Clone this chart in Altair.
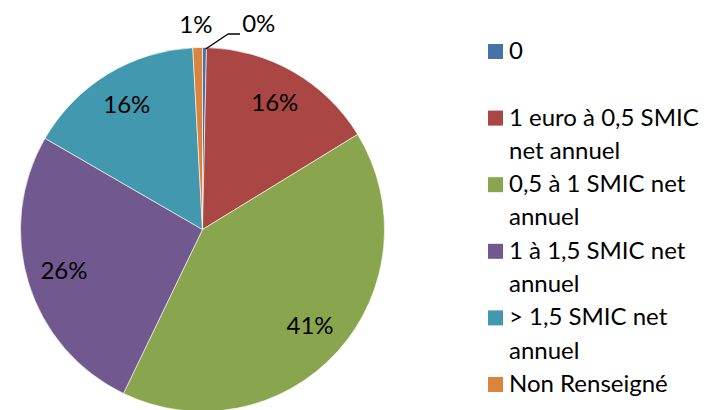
import altair as alt
import pandas as pd

categories = ["0", "1 euro à 0,5 SMIC net annuel", "0,5 à 1 SMIC net annuel",
              "1 à 1,5 SMIC net annuel", "> 1,5 SMIC net annuel", "Non Renseigné"]
legend_labels = ["0", "1 euro à 0,5 SMIC\nnet annuel", "0,5 à 1 SMIC net\nannuel",
                 "1 à 1,5 SMIC net\nannuel", "> 1,5 SMIC net\nannuel", "Non Renseigné"]
shares = [0.35, 15.9, 40.9, 26.2, 15.8, 0.85]
colors = ["#4572A7", "#AA4643", "#89A54E", "#71588F", "#4198AF", "#DB843D"]

df = pd.DataFrame({
    "cat": categories,
    "legend": legend_labels,
    "share": shares,
    "idx": list(range(len(categories))),
    "pct": [f"{round(v)}%" for v in shares],
})

FONT = "Lato"
FS = 24
CX, CY, R = 194.5, 221.5, 182

base = alt.Chart(df)
color = alt.Color("cat:N", scale=alt.Scale(domain=categories, range=colors), legend=None)
theta = alt.Theta("share:Q", stack=True)
order = alt.Order("idx:Q")

pie = base.mark_arc(radius=R, stroke="white", strokeWidth=0.6).encode(
    theta=theta, color=color, order=order, x=alt.value(CX), y=alt.value(CY)
)

def pie_label(cond, radius, dx=0, dy=0, size=FS):
    return base.mark_text(radius=radius, dx=dx, dy=dy, font=FONT, fontSize=size,
                          align="center", baseline="middle", color="black").encode(
        theta=theta, order=order, x=alt.value(CX), y=alt.value(CY),
        text=alt.condition(cond, alt.Text("pct:N"), alt.value("")),
    )

lab_main = pie_label("datum.share >= 5", 145)
lab_one = pie_label("datum.idx == 5", 209, dx=-1, dy=5.5)
lab_zero = pie_label("datum.idx == 0", 205, dx=54)

lead = base.transform_filter("datum.idx == 0")
rule1 = lead.mark_rule(color="black", strokeWidth=1.5).encode(
    x=alt.value(197.7), y=alt.value(41), x2=alt.value(220), y2=alt.value(26))
rule2 = lead.mark_rule(color="black", strokeWidth=1.5).encode(
    x=alt.value(220), y=alt.value(26), x2=alt.value(232), y2=alt.value(26))

ly = alt.Y("idx:Q", scale=alt.Scale(domain=[0, 5], range=[51, 384]), axis=None)
leg_sq = base.mark_square(size=225, opacity=1, yOffset=-7.5).encode(
    x=alt.value(487.5), y=ly, color=color)
leg_tx = base.mark_text(align="left", baseline="alphabetic", lineBreak="\n",
                        lineHeight=33.3, font=FONT, fontSize=FS, color="black").encode(
    x=alt.value(501), y=ly, text="legend:N")

chart = alt.layer(pie, lab_main, lab_one, lab_zero, rule1, rule2, leg_sq, leg_tx).properties(
    width=699, height=404, padding=0, autosize="none"
).configure_view(stroke=None)

chart.save("out.html", embed_options={"renderer": "svg", "actions": False})
